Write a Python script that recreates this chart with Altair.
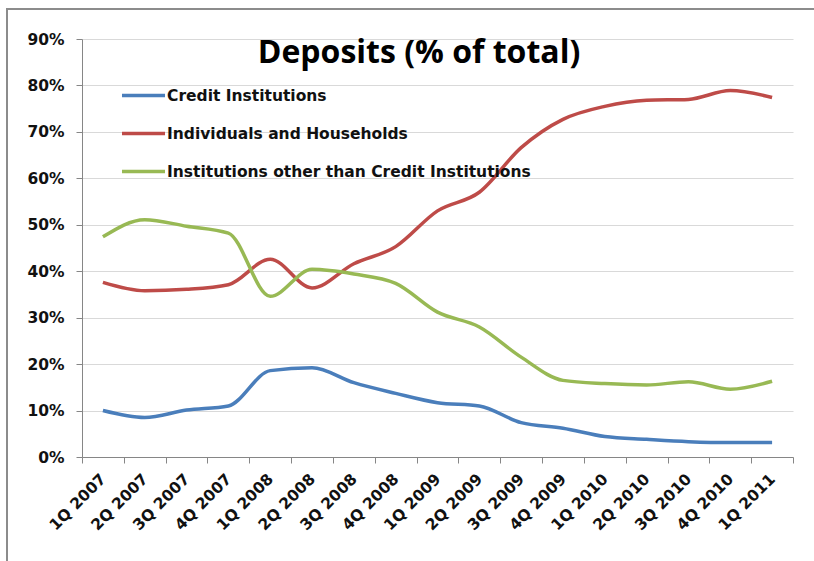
import altair as alt
import pandas as pd

quarters = ["1Q 2007", "2Q 2007", "3Q 2007", "4Q 2007",
            "1Q 2008", "2Q 2008", "3Q 2008", "4Q 2008",
            "1Q 2009", "2Q 2009", "3Q 2009", "4Q 2009",
            "1Q 2010", "2Q 2010", "3Q 2010", "4Q 2010", "1Q 2011"]
credit = [10.0, 8.5, 10.1, 11.0, 18.6, 19.2, 16.0, 13.7, 11.7, 11.0, 7.4, 6.2, 4.4, 3.8, 3.3, 3.1, 3.1]
households = [37.6, 35.8, 36.1, 37.1, 42.6, 36.4, 41.6, 45.3, 53.0, 57.0, 66.6, 72.7, 75.5, 76.8, 77.0, 78.9, 77.4]
other = [47.4, 51.1, 49.7, 48.2, 34.6, 40.4, 39.4, 37.4, 31.2, 28.0, 21.5, 16.5, 15.8, 15.5, 16.2, 14.6, 16.3]
series_names = ["Credit Institutions", "Individuals and Households",
                "Institutions other than Credit Institutions"]
series_colors = ["#4A7EBB", "#BE4B48", "#98B954"]
y_ticks = [0, 10, 20, 30, 40, 50, 60, 70, 80, 90]
title_text = "Deposits (% of total)"

rows = []
for name, vals in zip(series_names, [credit, households, other]):
    for q, v in zip(quarters, vals):
        rows.append({"quarter": q, "series": name, "value": v})
df = pd.DataFrame(rows)

AXIS_FONT = "DejaVu Sans"
TITLE_FONT = "Open Sans"

lines = alt.Chart(df).mark_line(strokeWidth=3.5, interpolate="monotone").encode(
    x=alt.X("quarter:N", sort=quarters, bandPosition=0.5,
            scale=alt.Scale(type="band", paddingInner=0, paddingOuter=0),
            axis=alt.Axis(title=None, labelAngle=-45, labelAlign="right",
                          labelBaseline="middle", labelPadding=13,
                          labelFont=AXIS_FONT, labelFontSize=15.5,
                          labelFontWeight="bold", labelColor="#111111",
                          tickBand="extent", tickSize=6, tickColor="#868686",
                          domainColor="#868686", grid=False)),
    y=alt.Y("value:Q", scale=alt.Scale(domain=[0, 90], nice=False),
            axis=alt.Axis(title=None, values=y_ticks,
                          labelExpr="datum.value + '%'",
                          labelFont=AXIS_FONT, labelFontSize=15.5,
                          labelFontWeight="bold", labelColor="#111111",
                          labelPadding=12, tickSize=6, tickColor="#868686",
                          domainColor="#868686", gridColor="#D9D9D9")),
    color=alt.Color("series:N", sort=series_names,
                    scale=alt.Scale(domain=series_names, range=series_colors),
                    legend=alt.Legend(title=None, orient="none",
                                      legendX=38, legendY=33,
                                      symbolType="stroke", symbolSize=1850,
                                      symbolStrokeWidth=3.5,
                                      labelFont=AXIS_FONT, labelFontSize=15.5,
                                      labelFontWeight="bold", labelColor="#111111",
                                      labelOffset=0, rowPadding=6,
                                      labelLimit=500)),
)

title = alt.Chart().mark_text(font=TITLE_FONT, fontSize=32, fontWeight="bold",
                              align="center", baseline="middle", color="#000000").encode(
    x=alt.value(337), y=alt.value(14), text=alt.value(title_text))

frame = alt.Chart().mark_rect(fill=None, stroke="#8C8C8C", strokeWidth=2).encode(
    x=alt.value(-75), x2=alt.value(780), y=alt.value(-30), y2=alt.value(600))

chart = alt.layer(frame, lines, title).properties(
    width=711, height=418,
    autosize=alt.AutoSizeParams(type="none"),
    padding={"left": 82, "top": 39, "right": 21, "bottom": 104},
    background="#FFFFFF",
).configure_view(stroke=None)

chart.save("out.html", embed_options={"renderer": "svg", "actions": False})
